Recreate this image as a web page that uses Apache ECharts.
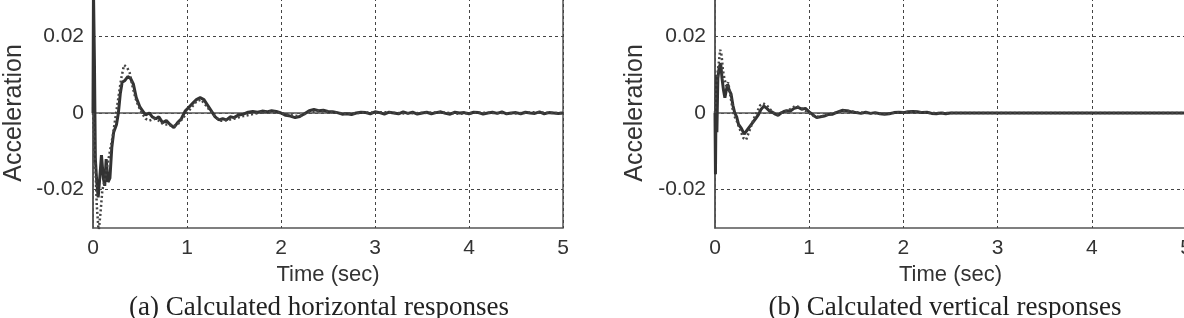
<!DOCTYPE html>
<html>
<head>
<meta charset="utf-8">
<script src="https://cdn.jsdelivr.net/npm/echarts@6/dist/echarts.min.js"></script>
<style>html,body{margin:0;padding:0;background:#fff}#c{width:1184px;height:318px}</style>
</head>
<body>
<div id="c"></div>
<script>
// ---------- data ----------
const xTicks = [0, 1, 2, 3, 4, 5];
const yTicks = [-0.02, 0, 0.02];
const captions = ['(a) Calculated horizontal responses', '(b) Calculated vertical responses'];

// (a) horizontal, solid line
const hSolidT = [0,0.005,0.015,0.025,0.04,0.055,0.075,0.09,0.11,0.125,0.14,0.16,0.18,0.2,0.22,0.25,0.27,0.29,0.31,0.34,0.37,0.4,0.43,0.46,0.5,0.53,0.56,0.6,0.63,0.67,0.7,0.74,0.78,0.82,0.86,0.9,0.94,0.98,1.02,1.06,1.1,1.14,1.18,1.22,1.26,1.3,1.34,1.38,1.42,1.46,1.5,1.55,1.6,1.65,1.7,1.75,1.8,1.85,1.9,1.95,2.0,2.05,2.1,2.15,2.2,2.25,2.3,2.35,2.4,2.45,2.5,2.55,2.6,2.65,2.7,2.75,2.8,2.85,2.9,2.95,3.0,3.05,3.1,3.15,3.2,3.25,3.3,3.35,3.4,3.45,3.5,3.55,3.6,3.65,3.7,3.75,3.8,3.85,3.9,3.95,4.0,4.05,4.1,4.15,4.2,4.25,4.3,4.35,4.4,4.45,4.5,4.55,4.6,4.65,4.7,4.75,4.8,4.85,4.9,4.95,5.0];
const hSolidV = [0,0.032,0.014,-0.012,-0.018,-0.022,-0.016,-0.011,-0.017,-0.019,-0.012,-0.018,-0.017,-0.009,-0.005,-0.003,0.0,0.005,0.008,0.0085,0.0095,0.009,0.0075,0.004,0.0015,0.0005,-0.0005,0.0,-0.001,-0.0015,-0.001,-0.0025,-0.002,-0.003,-0.0038,-0.0025,-0.0015,0.0005,0.0015,0.0025,0.0035,0.004,0.0035,0.002,0.0005,-0.001,-0.0018,-0.0015,-0.0018,-0.001,-0.0012,-0.0005,-0.0003,0.0002,0.0004,0.0002,0.0005,0.0003,0.0006,0.0004,0.0,-0.0006,-0.0008,-0.0012,-0.0009,-0.0002,0.0006,0.0009,0.0006,0.0007,0.0004,0.0003,0.0001,-0.0003,-0.0002,-0.0004,0.0,0.0002,0.0001,-0.0002,0.0003,0.0001,-0.0003,0.0002,0.0,-0.0002,0.0003,-0.0001,0.0002,-0.0003,0.0,0.0002,-0.0002,0.0001,0.0003,-0.0001,-0.0003,0.0002,0.0,0.0001,-0.0002,0.0002,0.0001,-0.0003,0.0,0.0002,-0.0001,0.0003,-0.0002,0.0,0.0001,-0.0002,0.0002,0.0,-0.0001,0.0003,-0.0002,0.0001,0.0,-0.0001,0.0];
// (a) horizontal, dotted line
const hDotT = [0,0.02,0.04,0.06,0.08,0.1,0.12,0.15,0.18,0.21,0.24,0.27,0.3,0.33,0.36,0.39,0.42,0.45,0.48,0.52,0.56,0.6,0.65,0.7,0.75,0.8,0.85,0.9,0.95,1.0,1.05,1.1,1.15,1.2,1.25,1.3,1.35,1.4,1.5,1.6,1.7,1.8,1.9,2.0,2.1,2.2,2.3,2.4,2.5,2.7,2.9,3.1,3.3,3.5,3.7,3.9,4.1,4.3,4.5,4.7,4.9,5.0];
const hDotV = [0,-0.01,-0.024,-0.031,-0.026,-0.02,-0.018,-0.014,-0.01,-0.006,-0.001,0.004,0.009,0.0125,0.012,0.0105,0.007,0.004,0.002,0.0,-0.0015,-0.002,-0.0015,-0.002,-0.003,-0.003,-0.0035,-0.003,-0.0015,0.0,0.0015,0.003,0.0035,0.002,0.0005,-0.001,-0.002,-0.002,-0.0015,-0.0008,-0.0003,0.0002,0.0003,0.0,-0.0006,-0.0008,0.0002,0.0005,0.0003,-0.0002,0.0001,0.0002,-0.0001,0.0,0.0002,-0.0002,0.0001,0.0,-0.0001,0.0002,0.0,0.0];

// (b) vertical, solid line
const vSolidT = [0,0.005,0.01,0.015,0.02,0.03,0.045,0.06,0.075,0.09,0.105,0.12,0.135,0.15,0.17,0.19,0.21,0.23,0.25,0.28,0.31,0.34,0.37,0.4,0.43,0.46,0.49,0.52,0.55,0.58,0.61,0.64,0.67,0.7,0.73,0.76,0.8,0.84,0.88,0.92,0.96,1.0,1.04,1.08,1.12,1.16,1.2,1.25,1.3,1.35,1.4,1.45,1.5,1.55,1.6,1.65,1.7,1.75,1.8,1.85,1.9,1.95,2.0,2.05,2.1,2.15,2.2,2.25,2.3,2.35,2.4,2.45,2.5,3.0,3.5,4.0,4.5,5.0];
const vSolidV = [0,-0.016,0.0,0.01,-0.005,0.009,0.012,0.013,0.009,0.006,0.004,0.006,0.0075,0.006,0.005,0.002,0.0,-0.001,-0.003,-0.004,-0.0055,-0.0045,-0.0035,-0.0025,-0.0015,-0.0005,0.001,0.0018,0.0012,0.0005,0.0002,-0.0003,-0.0006,0.0,0.0004,0.0006,0.0005,0.0012,0.0015,0.001,0.0012,0.0003,-0.0005,-0.0012,-0.001,-0.0008,-0.0004,-0.0003,0.0002,0.0007,0.0006,0.0003,0.0001,-0.0001,0.0002,-0.0001,0.0001,-0.0002,-0.0003,-0.0002,0.0001,0.0002,0.0001,0.0003,0.0004,0.0003,0.0001,0.0002,-0.0001,-0.0002,0.0,-0.0002,0.0,0.0,0.0,0.0,0.0,0.0];
// (b) vertical, dotted line
const vDotT = [0,0.01,0.025,0.04,0.055,0.07,0.085,0.1,0.12,0.14,0.16,0.18,0.2,0.23,0.26,0.3,0.33,0.36,0.39,0.42,0.45,0.48,0.51,0.55,0.6,0.65,0.7,0.75,0.8,0.85,0.9,0.95,1.0,1.05,1.1,1.15,1.2,1.3,1.4,1.5,1.6,1.8,2.0,2.1,2.3,2.5,3.0,3.5,4.0,4.5,5.0];
const vDotV = [0,0.006,0.01,0.013,0.0165,0.015,0.011,0.009,0.007,0.008,0.005,0.002,-0.0005,-0.002,-0.004,-0.0065,-0.007,-0.005,-0.003,-0.001,0.0005,0.002,0.0025,0.002,0.0005,-0.0005,0.0,0.0005,0.001,0.0018,0.0015,0.0008,0.0,-0.0008,-0.001,-0.0008,-0.0003,0.0002,0.0006,0.0002,0.0,-0.0002,0.0002,0.0003,0.0,0.0,0.0,0.0,0.0,0.0,0.0];

// ---------- chart ----------
const zip = (t, v) => t.map((x, i) => [x, v[i]]);
const grids = [
  {left: 93, width: 470, top: -2, height: 230},
  {left: 715, width: 471, top: -2, height: 230}
];
const gridLine = {show: true, lineStyle: {color: '#444', width: 1, type: [3, 3]}};
const axisLine = {show: true, lineStyle: {color: '#555', width: 1.5}};
const xAxes = grids.map((g, i) => ({
  type: 'value', gridIndex: i, min: 0, max: 5, interval: 1,
  name: 'Time (sec)', nameLocation: 'middle', nameGap: 36,
  nameTextStyle: {fontFamily: 'Liberation Sans, Arial', fontSize: 22, color: '#333'},
  axisLine, axisTick: {show: false}, splitLine: gridLine,
  axisLabel: {fontFamily: 'Liberation Sans, Arial', fontSize: 21, color: '#333', margin: 10,
    customValues: xTicks}
}));
const yAxes = grids.map((g, i) => ({
  type: 'value', gridIndex: i, min: -0.03, max: 0.03, interval: 0.01,
  name: 'Acceleration', nameLocation: 'middle', nameGap: i === 0 ? 66 : 67,
  nameTextStyle: {fontFamily: 'Liberation Sans, Arial', fontSize: 25, color: '#333'},
  axisLine, axisTick: {show: false, customValues: yTicks}, splitLine: gridLine,
  axisLabel: {fontFamily: 'Liberation Sans, Arial', fontSize: 21, color: '#333', margin: 9,
    customValues: yTicks,
    formatter: v => (Math.abs(v) < 1e-9 ? '0' : v.toFixed(2))}
}));
function solid(t, v, i) {
  return {type: 'line', xAxisIndex: i, yAxisIndex: i, data: zip(t, v), showSymbol: false,
    lineStyle: {color: '#333', width: 3}, z: 3, silent: true};
}
function dotted(t, v, i) {
  return {type: 'line', xAxisIndex: i, yAxisIndex: i, data: zip(t, v), showSymbol: false,
    lineStyle: {color: '#444', width: 2.5, type: [2, 2.5]}, z: 4, silent: true};
}
const chart = echarts.init(document.getElementById('c'), null, {renderer: 'canvas'});
chart.setOption({
  backgroundColor: '#fff',
  animation: false,
  grid: grids.map(g => Object.assign({show: true, borderColor: '#555', borderWidth: 1.5,
    backgroundColor: 'transparent', containLabel: false, outerBoundsMode: 'none'}, g)),
  xAxis: xAxes,
  yAxis: yAxes,
  series: [
    solid(hSolidT, hSolidV, 0), dotted(hDotT, hDotV, 0),
    solid(vSolidT, vSolidV, 1), dotted(vDotT, vDotV, 1)
  ],
  graphic: [
    {type: 'text', x: 319, y: 308,
     style: {text: captions[0], font: '27px "Liberation Serif", "Times New Roman", serif', fill: '#222', textAlign: 'center', textVerticalAlign: 'middle'}},
    {type: 'text', x: 945, y: 308,
     style: {text: captions[1], font: '27px "Liberation Serif", "Times New Roman", serif', fill: '#222', textAlign: 'center', textVerticalAlign: 'middle'}}
  ]
});
</script>
</body>
</html>
